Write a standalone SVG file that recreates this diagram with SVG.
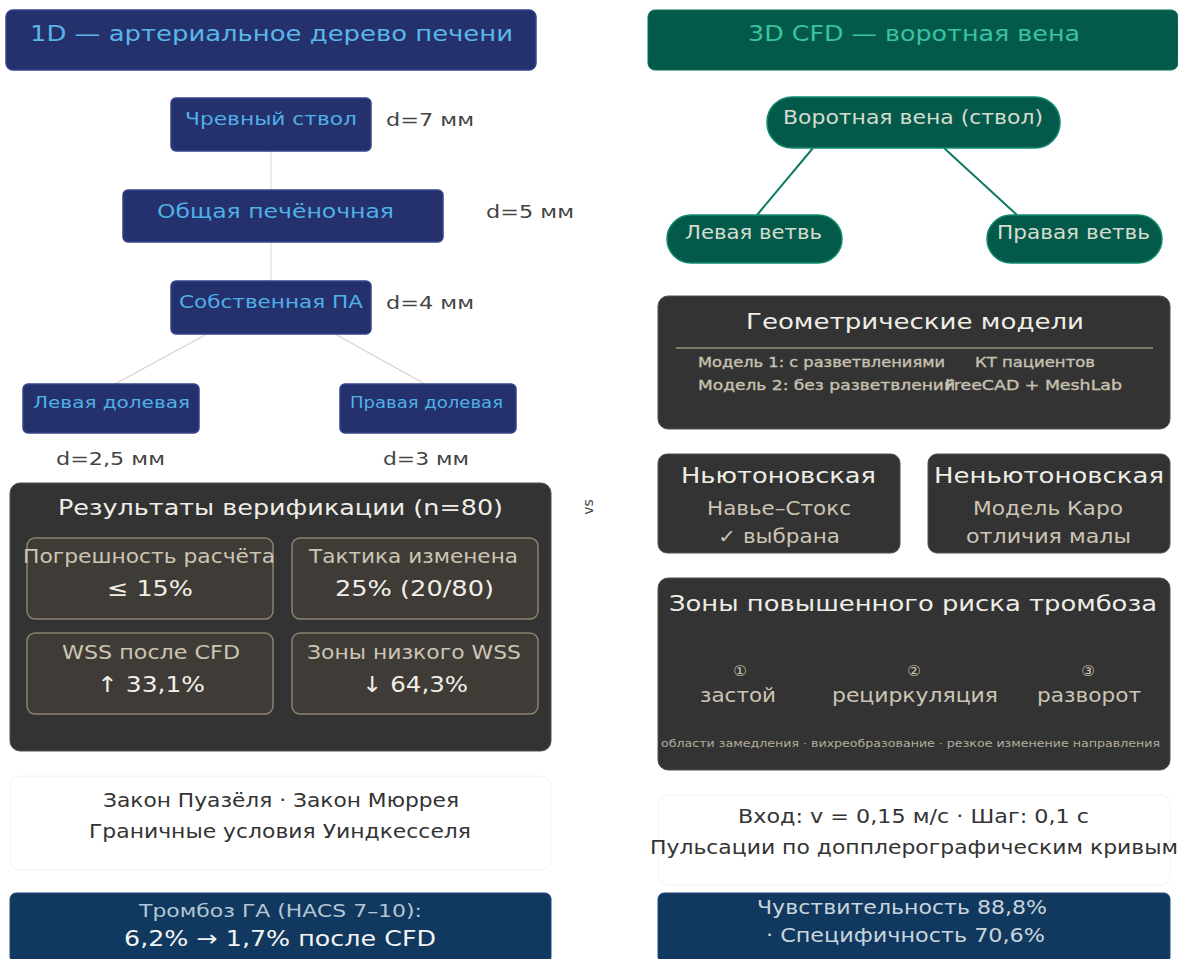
<svg xmlns="http://www.w3.org/2000/svg" width="1178" height="959" viewBox="0 0 1178 959">
<style>
text{font-family:"DejaVu Sans","Verdana",sans-serif;dominant-baseline:central}
.m{text-anchor:middle}
.navy{fill:#25316c;stroke:#34448a;stroke-width:1.5}
.navyt{fill:#4fb0e6}
.dim{fill:#444444;font-size:18px}
.teal{fill:#035a4a;stroke:#128a70;stroke-width:1.5}
.pillt{fill:#d6dccf;font-size:19px}
.dark{fill:#333333;stroke:#555049;stroke-width:1}
.ttl{fill:#f0ede6;font-size:22px}
.sub{fill:#cdc5b4;font-size:19px}
.cell{fill:#3f3b37;stroke:#8c836f;stroke-width:1.5}
.val{fill:#f2efe8;font-size:22px}
.note{fill:#ffffff;stroke:#f2f2f2;stroke-width:1}
.notet{fill:#333333;font-size:19px}
.blue{fill:#11395f;stroke:#1c4a78;stroke-width:1}
.sm{fill:#c8c0b0;font-size:14px;stroke:#c8c0b0;stroke-width:0.35}
</style>
<rect width="1178" height="959" fill="#ffffff"/>
<g id="connectors">
<line x1="271" y1="151" x2="271" y2="190" stroke="#dddddd" stroke-width="1.2"/>
<line x1="271" y1="242" x2="271" y2="281" stroke="#dddddd" stroke-width="1.2"/>
<line x1="207" y1="334" x2="115" y2="384" stroke="#d6d2c8" stroke-width="1.2"/>
<line x1="335" y1="334" x2="425" y2="384" stroke="#d6d2c8" stroke-width="1.2"/>
<line x1="813" y1="148" x2="757" y2="215" stroke="#0c7a64" stroke-width="2"/>
<line x1="944" y1="148" x2="1017" y2="215" stroke="#0c7a64" stroke-width="2"/>
</g>
<g id="header-1d">
<rect class="navy" x="6" y="10" width="530" height="60" rx="7"/>
<text class="m" x="271.5" y="33" fill="#5ab6e8" font-size="22" textLength="483" lengthAdjust="spacingAndGlyphs">1D — артериальное дерево печени</text>
</g>
<g id="header-3d">
<rect x="648" y="10" width="530" height="60" rx="7" fill="#035a4a" stroke="#0a6a58"/>
<text class="m" x="914" y="33" fill="#3cc2a2" font-size="22" textLength="332" lengthAdjust="spacingAndGlyphs">3D CFD — воротная вена</text>
</g>
<g id="n-celiac">
<rect class="navy" x="171" y="98" width="200" height="53" rx="5"/>
<text class="m navyt" x="271" y="118" font-size="18" textLength="172" lengthAdjust="spacingAndGlyphs">Чревный ствол</text>
<text class="dim" x="386" y="119" textLength="88" lengthAdjust="spacingAndGlyphs">d=7 мм</text>
</g>
<g id="n-common">
<rect class="navy" x="123" y="190" width="320" height="52" rx="5"/>
<text class="m navyt" x="275.5" y="211" font-size="19" textLength="237" lengthAdjust="spacingAndGlyphs">Общая печёночная</text>
<text class="dim" x="486" y="211" textLength="88" lengthAdjust="spacingAndGlyphs">d=5 мм</text>
</g>
<g id="n-proper">
<rect class="navy" x="171" y="281" width="200" height="53" rx="5"/>
<text class="m navyt" x="271" y="301" font-size="18" textLength="184" lengthAdjust="spacingAndGlyphs">Собственная ПА</text>
<text class="dim" x="386" y="302" textLength="88" lengthAdjust="spacingAndGlyphs">d=4 мм</text>
</g>
<g id="n-left-lobar">
<rect class="navy" x="23" y="384" width="176" height="49" rx="5"/>
<text class="m navyt" x="111.5" y="402" font-size="16" textLength="157" lengthAdjust="spacingAndGlyphs">Левая долевая</text>
<text class="dim m" x="110.5" y="458" textLength="109" lengthAdjust="spacingAndGlyphs">d=2,5 мм</text>
</g>
<g id="n-right-lobar">
<rect class="navy" x="340" y="384" width="176" height="49" rx="5"/>
<text class="m navyt" x="426.5" y="402" font-size="16" textLength="153" lengthAdjust="spacingAndGlyphs">Правая долевая</text>
<text class="dim m" x="426" y="458" textLength="86" lengthAdjust="spacingAndGlyphs">d=3 мм</text>
</g>
<g id="results">
<rect class="dark" x="10" y="483" width="541" height="268" rx="10"/>
<text class="m ttl" x="280.5" y="507" textLength="445" lengthAdjust="spacingAndGlyphs">Результаты верификации (n=80)</text>
<rect class="cell" x="27" y="538" width="246" height="81" rx="8"/>
<text class="m sub" x="149" y="556" textLength="252" lengthAdjust="spacingAndGlyphs">Погрешность расчёта</text>
<text class="m val" x="150" y="588" textLength="86" lengthAdjust="spacingAndGlyphs">≤ 15%</text>
<rect class="cell" x="292" y="538" width="246" height="81" rx="8"/>
<text class="m sub" x="413.5" y="556" textLength="209" lengthAdjust="spacingAndGlyphs">Тактика изменена</text>
<text class="m val" x="414.5" y="588" textLength="159" lengthAdjust="spacingAndGlyphs">25% (20/80)</text>
<rect class="cell" x="27" y="633" width="246" height="81" rx="8"/>
<text class="m sub" x="151" y="652" textLength="178" lengthAdjust="spacingAndGlyphs">WSS после CFD</text>
<text class="m val" x="151" y="684" textLength="108" lengthAdjust="spacingAndGlyphs">↑ 33,1%</text>
<rect class="cell" x="292" y="633" width="246" height="81" rx="8"/>
<text class="m sub" x="414" y="652" textLength="214" lengthAdjust="spacingAndGlyphs">Зоны низкого WSS</text>
<text class="m val" x="415" y="684" textLength="106" lengthAdjust="spacingAndGlyphs">↓ 64,3%</text>
</g>
<g id="vs">
<text class="m" x="588" y="507" fill="#444444" font-size="14" transform="rotate(-90 588 507)">vs</text>
</g>
<g id="laws">
<rect class="note" x="10" y="776" width="541" height="94" rx="10"/>
<text class="m notet" x="281" y="800" textLength="356" lengthAdjust="spacingAndGlyphs">Закон Пуазёля · Закон Мюррея</text>
<text class="m notet" x="280" y="831" textLength="382" lengthAdjust="spacingAndGlyphs">Граничные условия Уиндкесселя</text>
</g>
<g id="outcome-1d">
<rect class="blue" x="10" y="893" width="541" height="70" rx="6"/>
<text class="m" x="280.5" y="910" fill="#b4c6d6" font-size="18" textLength="283" lengthAdjust="spacingAndGlyphs">Тромбоз ГА (HACS 7–10):</text>
<text class="m" x="280" y="938" fill="#f4f4f4" font-size="22" textLength="312" lengthAdjust="spacingAndGlyphs">6,2% → 1,7% после CFD</text>
</g>
<g id="n-portal">
<rect class="teal" x="767" y="97" width="293" height="51" rx="25"/>
<text class="m pillt" x="913" y="117" textLength="260" lengthAdjust="spacingAndGlyphs">Воротная вена (ствол)</text>
</g>
<g id="n-left-branch">
<rect class="teal" x="667" y="215" width="175" height="48" rx="24"/>
<text class="m pillt" x="753.5" y="232" textLength="137" lengthAdjust="spacingAndGlyphs">Левая ветвь</text>
</g>
<g id="n-right-branch">
<rect class="teal" x="987" y="215" width="175" height="48" rx="24"/>
<text class="m pillt" x="1073.5" y="232" textLength="153" lengthAdjust="spacingAndGlyphs">Правая ветвь</text>
</g>
<g id="geometry">
<rect class="dark" x="658" y="296" width="512" height="133" rx="10"/>
<text class="m ttl" x="915" y="321" textLength="338" lengthAdjust="spacingAndGlyphs">Геометрические модели</text>
<line x1="676" y1="348" x2="1153" y2="348" stroke="#9a9080" stroke-width="1.5"/>
<text class="sm" x="698" y="362" textLength="247" lengthAdjust="spacingAndGlyphs">Модель 1: с разветвлениями</text>
<text class="sm" x="975" y="362" textLength="120" lengthAdjust="spacingAndGlyphs">КТ пациентов</text>
<text class="sm" x="698" y="385" textLength="257" lengthAdjust="spacingAndGlyphs">Модель 2: без разветвлений</text>
<text class="sm" x="945" y="385" textLength="177" lengthAdjust="spacingAndGlyphs">FreeCAD + MeshLab</text>
</g>
<g id="newtonian">
<rect class="dark" x="658" y="454" width="242" height="99" rx="9"/>
<text class="m ttl" x="778.5" y="475" textLength="195" lengthAdjust="spacingAndGlyphs">Ньютоновская</text>
<text class="m sub" x="779" y="508" textLength="144" lengthAdjust="spacingAndGlyphs">Навье–Стокс</text>
<text class="m sub" x="779" y="536" textLength="122" lengthAdjust="spacingAndGlyphs">✓ выбрана</text>
</g>
<g id="non-newtonian">
<rect class="dark" x="928" y="454" width="242" height="99" rx="9"/>
<text class="m ttl" x="1049" y="475" textLength="230" lengthAdjust="spacingAndGlyphs">Неньютоновская</text>
<text class="m sub" x="1048" y="508" textLength="150" lengthAdjust="spacingAndGlyphs">Модель Каро</text>
<text class="m sub" x="1048.5" y="536" textLength="165" lengthAdjust="spacingAndGlyphs">отличия малы</text>
</g>
<g id="thrombosis-zones">
<rect class="dark" x="658" y="578" width="512" height="192" rx="10"/>
<text class="m ttl" x="913" y="603" textLength="488" lengthAdjust="spacingAndGlyphs">Зоны повышенного риска тромбоза</text>
<text class="m" x="740" y="671" fill="#cdc5b4" font-size="15">①</text>
<text class="m" x="914" y="671" fill="#cdc5b4" font-size="15">②</text>
<text class="m" x="1088" y="671" fill="#cdc5b4" font-size="15">③</text>
<text class="m sub" x="738" y="695" font-size="20" textLength="76" lengthAdjust="spacingAndGlyphs">застой</text>
<text class="m sub" x="915" y="695" font-size="20" textLength="166" lengthAdjust="spacingAndGlyphs">рециркуляция</text>
<text class="m sub" x="1089" y="695" font-size="20" textLength="104" lengthAdjust="spacingAndGlyphs">разворот</text>
<text x="661" y="743" fill="#b4ac9c" font-size="10.5" textLength="499" lengthAdjust="spacingAndGlyphs">области замедления · вихреобразование · резкое изменение направления</text>
</g>
<g id="inputs">
<rect class="note" x="658" y="795" width="512" height="90" rx="10"/>
<text class="m notet" x="913.5" y="816" textLength="351" lengthAdjust="spacingAndGlyphs">Вход: v = 0,15 м/с · Шаг: 0,1 с</text>
<text class="m notet" x="914" y="847" textLength="528" lengthAdjust="spacingAndGlyphs">Пульсации по допплерографическим кривым</text>
</g>
<g id="outcome-3d">
<rect class="blue" x="658" y="893" width="512" height="70" rx="6"/>
<text class="m" x="902" y="907" fill="#c9d4dc" font-size="19" textLength="290" lengthAdjust="spacingAndGlyphs">Чувствительность 88,8%</text>
<text class="m" x="905.5" y="935" fill="#c9d4dc" font-size="19" textLength="279" lengthAdjust="spacingAndGlyphs">· Специфичность 70,6%</text>
</g>
</svg>
